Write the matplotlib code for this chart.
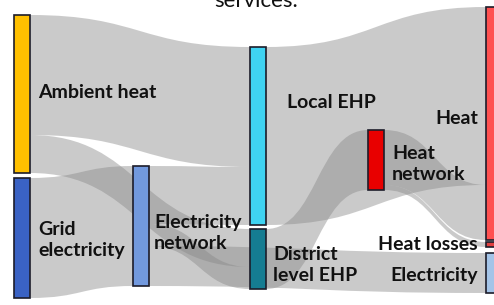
import matplotlib.pyplot as plt
from matplotlib.path import Path
from matplotlib.patches import PathPatch, Rectangle

# nodes of the energy flow chart
nodes = ['Ambient heat', 'Grid electricity', 'Electricity network', 'Local EHP',
         'District level EHP', 'Heat network', 'Heat', 'Heat losses', 'Electricity']
node_colors = ['#FFC000', '#3A62C4', '#7299DE', '#3FD3F2',
               '#157C92', '#E80000', '#FF5050', '#E04040', '#A4C4E8']
labels = ['Ambient heat', 'Grid\nelectricity', 'Electricity\nnetwork', 'Local EHP',
          'District\nlevel EHP', 'Heat\nnetwork', 'Heat', 'Heat losses', 'Electricity']

# flows (source, target, value)
sources = ['Ambient heat', 'Ambient heat', 'Grid electricity',
           'Electricity network', 'Electricity network', 'Electricity network',
           'Local EHP', 'District level EHP', 'Heat network', 'Heat network']
targets = ['Local EHP', 'District level EHP', 'Electricity network',
           'Local EHP', 'District level EHP', 'Electricity',
           'Heat', 'Heat network', 'Heat', 'Heat losses']
values = [120, 38, 120, 58, 22, 40, 178, 60, 55, 5]

# layout (pixels)
col_x = {'Ambient heat': 14, 'Grid electricity': 14, 'Electricity network': 133,
         'Local EHP': 250, 'District level EHP': 250, 'Heat network': 368,
         'Heat': 486, 'Heat losses': 486, 'Electricity': 486}
node_top = {'Ambient heat': 15, 'Grid electricity': 178, 'Electricity network': 166,
            'Local EHP': 47, 'District level EHP': 229, 'Heat network': 130,
            'Heat': 7, 'Heat losses': 242, 'Electricity': 253}
node_w = 16

fig = plt.figure(figsize=(4.94, 3.05), dpi=100)
ax = fig.add_axes([0, 0, 1, 1])
ax.set_xlim(0, 494)
ax.set_ylim(305, 0)
ax.axis('off')
plt.rcParams['font.family'] = ['Lato', 'DejaVu Sans']

# node heights
size_in = {n: 0 for n in nodes}
size_out = {n: 0 for n in nodes}
for s, t, v in zip(sources, targets, values):
    size_out[s] += v
    size_in[t] += v
height = {n: max(size_in[n], size_out[n]) for n in nodes}

out_off = dict(node_top)
in_off = dict(node_top)
for s, t, v in zip(sources, targets, values):
    x0 = col_x[s] + node_w
    x1 = col_x[t]
    y0 = out_off[s]
    y1 = in_off[t]
    out_off[s] += v
    in_off[t] += v
    xm = (x0 + x1) / 2
    verts = [(x0, y0), (xm, y0), (xm, y1), (x1, y1),
             (x1, y1 + v), (xm, y1 + v), (xm, y0 + v), (x0, y0 + v), (x0, y0)]
    codes = [Path.MOVETO, Path.CURVE4, Path.CURVE4, Path.CURVE4,
             Path.LINETO, Path.CURVE4, Path.CURVE4, Path.CURVE4, Path.CLOSEPOLY]
    ax.add_patch(PathPatch(Path(verts, codes), facecolor='#888888', edgecolor='none',
                           alpha=0.44, zorder=1))

for n, c in zip(nodes, node_colors):
    ax.add_patch(Rectangle((col_x[n], node_top[n]), node_w, height[n],
                           facecolor=c, edgecolor='#1c1c2a', lw=1.2, zorder=3))

lab_pos = {'Ambient heat': (38, 92, 'left'), 'Grid electricity': (38, 240, 'left'),
           'Electricity network': (154, 233, 'left'), 'Local EHP': (287, 103, 'left'),
           'District level EHP': (273, 265, 'left'), 'Heat network': (392, 164, 'left'),
           'Heat': (478, 118, 'right'), 'Heat losses': (478, 244, 'right'),
           'Electricity': (478, 276, 'right')}
for n, lab in zip(nodes, labels):
    x, y, ha = lab_pos[n]
    ax.text(x, y, lab, ha=ha, va='center', fontsize=14, fontweight='bold',
            color='#111111', linespacing=1.3, zorder=4)

# title above, only its lower part falls inside the picture
ax.text(256, 7, 'services.', ha='center', va='baseline', fontsize=16, color='#111111')

fig.savefig('out.png', dpi=100)
